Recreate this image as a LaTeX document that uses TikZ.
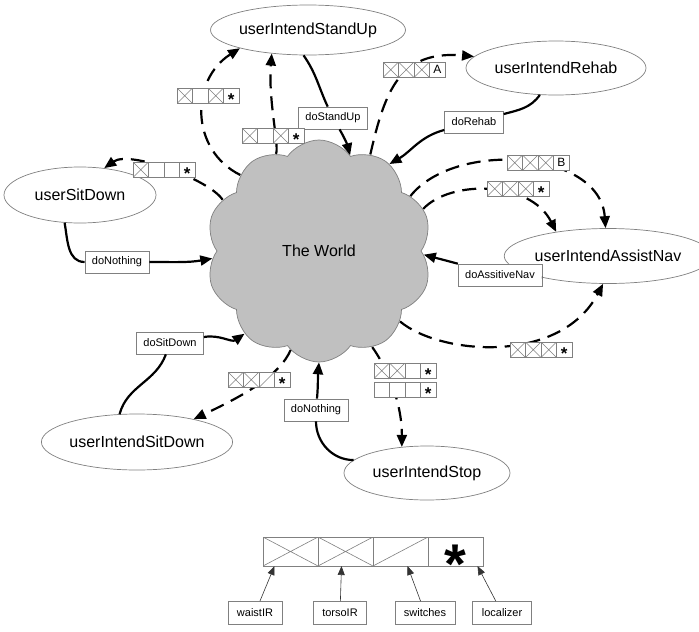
\documentclass[tikz,border=0pt]{standalone}
\usepackage{fontspec}
\setmainfont{Liberation Sans}
\usetikzlibrary{shapes.geometric,shapes.symbols,arrows.meta}
\definecolor{linegray}{RGB}{128,128,128}
\definecolor{cloudgray}{RGB}{192,192,192}
\newcommand{\cellw}{15.5}
\newcommand{\starmark}{\raisebox{-.58em}[0pt][0pt]{*}}
\tikzset{
  state/.style={ellipse, draw=linegray, line width=0.7pt, fill=white, inner sep=0pt,
    minimum height=54pt, font=\fontsize{16}{19}\selectfont},
  act/.style={rectangle, draw=linegray, line width=0.7pt, fill=white, inner xsep=7pt,
    inner ysep=0pt, minimum height=22pt, font=\fontsize{11}{13}\selectfont},
  key/.style={act, inner xsep=9pt, minimum height=23pt},
  world/.style={cloud, cloud puffs=10, cloud puff arc=110, cloud ignores aspect,
    draw=linegray, line width=0.7pt, fill=cloudgray, minimum width=226pt,
    minimum height=222pt, font=\fontsize{16}{19}\selectfont},
  does/.style={line width=2.2pt, -{Triangle[length=12pt,width=10pt]}},
  sees/.style={does, dash pattern=on 14pt off 8pt},
  pointer/.style={line width=0.6pt, draw=black!80, -{Triangle[length=9pt,width=7pt]}},
  cell/.style={rectangle, draw=linegray, line width=0.6pt, fill=white, inner sep=0pt,
    outer sep=0pt, minimum width=15.5pt, minimum height=15.5pt, font=\fontsize{12}{12}\selectfont},
  xcell/.style={cell, path picture={\draw[linegray, line width=0.6pt]
    (path picture bounding box.north west) -- (path picture bounding box.south east)
    (path picture bounding box.south west) -- (path picture bounding box.north east);}},
  dcell/.style={cell, path picture={\draw[linegray, line width=0.6pt]
    (path picture bounding box.south west) -- (path picture bounding box.north east);}},
  starcell/.style={cell, font=\fontsize{17}{17}\selectfont\bfseries},
}
% one sensor reading: name, top left corner, list of cell style/text
\newcommand{\sensorrow}[4]{%
  \foreach \s/\t [count=\i] in {#4}
    \node[\s, anchor=north west] (#1-\i) at ({#2+(\i-1)*\cellw},{#3}) {\t};
}
\begin{document}
\begin{tikzpicture}[x=1pt,y=1pt]
\useasboundingbox (0,0) rectangle (699,-632);
\node[world] (w) at (319,-251) {The World};
\node[state, minimum width=190pt, minimum height=50pt] (v1) at (308,-30) {userIntendStandUp};
\node[state, minimum width=180pt] (v2) at (556,-68) {userIntendRehab};
\node[state, minimum width=152pt, minimum height=56pt] (v3) at (80,-195) {userSitDown};
\node[state, minimum width=178pt, minimum height=55pt] (v4) at (608,-256) {userIntendAssistNav};
\node[state, minimum width=182pt, minimum height=56pt] (v5) at (137,-442) {userIntendSitDown};
\node[state, minimum width=166pt] (v6) at (427,-473) {userIntendStop};
% actions
\node[act] (a1) at (333,-118) {doStandUp};
\node[act] (a2) at (474,-122) {doRehab};
\node[act] (a3) at (117,-262) {doNothing};
\node[act] (a4) at (500,-275) {doAssitiveNav};
\node[act] (a5) at (170,-343) {doSitDown};
\node[act] (a6) at (316,-410) {doNothing};
\draw[does] (v1.-100) to[out=-55,in=115] (a1) to[out=-60,in=105] (w.72);
\draw[does] (v2.239) to[out=235,in=15] (a2) to[out=195,in=30] (w.51);
\draw[does] (v3.241) to[out=-80,in=180] (a3) to[out=0,in=190] (w.184);
\draw[does] (v4.198) -- (a4) to[out=165,in=-15] (w.-2);
\draw[does] (v5.122) to[out=75,in=250] (a5) to[out=10,in=215] (w.-132);
\draw[does] (v6.170) to[out=180,in=-90] (a6) to[out=85,in=-95] (w.-90);
% observations
\draw[sees] (w.136) .. controls (190,-150) and (190,-80) .. (v1.195);
\draw[sees] (w.114) .. controls (280,-150) and (268,-100) .. (v1.213);
\draw[sees] (w.62) .. controls (385,-90) and (400,-50) .. (v2.172);
\draw[sees] (w.152) .. controls (210,-180) and (130,-150) .. (v3.48);
\draw[sees] (w.31) .. controls (455,-140) and (600,-150) .. (v4.95);
\draw[sees] (w.22) .. controls (450,-180) and (530,-180) .. (v4.155);
\draw[sees] (w.-41) .. controls (440,-355) and (560,-365) .. (v4.-100);
\draw[sees] (w.-106) .. controls (280,-375) and (245,-395) .. (v5.22);
\draw[sees] (w.-61) .. controls (385,-365) and (402,-400) .. (v6.134);
% sensor readings
\sensorrow{r1}{177}{-88}{xcell/{},cell/{},xcell/{},starcell/\starmark}
\sensorrow{r2}{242}{-128}{xcell/{},cell/{},xcell/{},starcell/\starmark}
\sensorrow{r3}{383}{-62}{xcell/{},xcell/{},xcell/{},cell/A}
\sensorrow{r4}{133}{-162}{xcell/{},cell/{},cell/{},starcell/\starmark}
\sensorrow{r5}{507}{-155}{xcell/{},xcell/{},xcell/{},cell/B}
\sensorrow{r6}{487}{-181}{xcell/{},xcell/{},xcell/{},starcell/\starmark}
\sensorrow{r7}{510}{-342}{xcell/{},xcell/{},xcell/{},starcell/\starmark}
\sensorrow{r8}{228}{-372}{xcell/{},xcell/{},dcell/{},starcell/\starmark}
\sensorrow{r9}{374}{-363}{xcell/{},xcell/{},cell/{},starcell/\starmark}
\sensorrow{r10}{374}{-382}{cell/{},cell/{},cell/{},starcell/\starmark}
% legend
\begin{scope}[cell/.append style={minimum width=55pt, minimum height=29pt},
  starcell/.append style={font=\fontsize{56}{56}\selectfont\bfseries}]
\renewcommand{\cellw}{55}
\sensorrow{c}{263}{-537}{xcell/{},xcell/{},dcell/{},starcell/\starmark}
\end{scope}
\node[key] (l1) at (255,-613) {waistIR};
\node[key] (l2) at (340,-613) {torsoIR};
\node[key] (l3) at (425,-613) {switches};
\node[key] (l4) at (502,-613) {localizer};
\draw[pointer] (l1) -- ([xshift=-16pt]c-1.south);
\draw[pointer] (l2) -- ([xshift=-4pt]c-2.south);
\draw[pointer] (l3) -- ([xshift=7pt]c-3.south);
\draw[pointer] (l4) -- ([xshift=22pt]c-4.south);
\end{tikzpicture}
\end{document}
